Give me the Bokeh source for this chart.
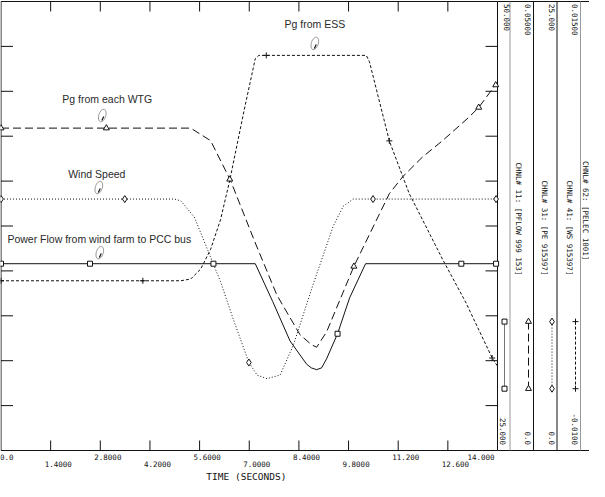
import numpy as np
from bokeh.plotting import figure
from bokeh.models import Range1d
from bokeh.core.properties import value
from bokeh.embed import file_html
from bokeh.resources import INLINE

# ---------------- data ----------------
time_ticks_even = [0.0, 2.8, 5.6, 8.4, 11.2, 14.0]
time_labels_even = ["0.0", "2.8000", "5.6000", "8.4000", "11.200", "14.000"]
time_ticks_odd = [1.4, 4.2, 7.0, 9.8, 12.6]
time_labels_odd = ["1.4000", "4.2000", "7.0000", "9.8000", "12.600"]
x_title = "TIME  (SECONDS)"

# channel 11: power flow wind farm -> PCC (MW)
pflow_t = [0.0, 7.17, 7.66, 8.15, 8.62, 8.75, 8.90, 9.04, 9.18, 9.49, 9.83, 10.28, 14.0]
pflow_v = [35.4, 35.4, 33.3, 31.1, 29.8, 29.6, 29.5, 29.6, 30.1, 31.5, 33.5, 35.4, 35.4]
pflow_mk_t = [0.0, 2.51, 5.99, 9.49, 12.98, 13.96]
pflow_mk_v = [35.4, 35.4, 35.4, 31.5, 35.4, 35.4]

# channel 31: Pg from each WTG
pe_t = [0.0, 5.35, 5.91, 6.47, 7.13, 7.78, 8.43, 8.75, 8.90, 9.18, 9.95, 10.95,
        11.33, 11.89, 12.45, 13.19, 13.47, 13.94, 14.0]
pe_v = [0.0359, 0.0359, 0.0345, 0.0301, 0.0235, 0.0173, 0.0129, 0.0118, 0.0115,
        0.0132, 0.0205, 0.0286, 0.0305, 0.0327, 0.0345, 0.0371, 0.0382, 0.0407, 0.0410]
pe_mk_t = [0.0, 2.97, 6.45, 9.95, 13.47, 13.95]
pe_mk_v = [0.0359, 0.0359, 0.0302, 0.0205, 0.0382, 0.0407]

# channel 41: wind speed
ws_t = [0.0, 4.89, 5.07, 5.45, 5.82, 6.19, 6.57, 6.99, 7.22, 7.50, 7.87, 8.25,
        8.53, 8.81, 9.09, 9.37, 9.65, 9.93, 14.0]
ws_v = [14.0, 14.0, 13.9, 13.0, 11.2, 9.4, 7.2, 4.9, 4.2, 4.0, 4.2, 5.9,
        7.6, 9.3, 10.9, 12.5, 13.6, 14.0, 14.0]
ws_mk_t = [0.0, 3.49, 6.99, 10.49, 13.96]
ws_mk_v = [14.0, 14.0, 4.9, 14.0, 14.0]

# channel 62: Pg from ESS
ess_t = [0.0, 5.07, 5.35, 5.63, 5.91, 6.19, 6.45, 6.85, 7.03, 7.17, 7.27, 10.30,
         10.39, 10.95, 11.51, 12.45, 13.10, 13.85, 14.0]
ess_v = [-0.00055, -0.00055, -0.00045, 0.0001, 0.0012, 0.00285, 0.00504, 0.00889,
         0.01054, 0.01182, 0.0120, 0.0120, 0.01164, 0.00724, 0.00431, 0.00065,
         -0.00173, -0.00485, -0.0053]
ess_mk_t = [0.0, 4.0, 7.48, 10.95, 13.85]
ess_mk_v = [-0.00055, -0.00055, 0.0120, 0.00724, -0.00485]

chan_keys = ["pflow", "pe", "ws", "ess"]
chan_names = ["CHNL# 11: [PFLOW 999 153]", "CHNL# 31: [PE 915397]",
              "CHNL# 41: [WS 915397]", "CHNL# 62: [PELEC 1001]"]
chan_max = [50.0, 0.05, 25.0, 0.015]
chan_min = [25.0, 0.0, 0.0, -0.01]
chan_max_labels = ["50.000", "0.05000", "25.000", "0.01500"]
chan_min_labels = ["25.000", "0.0", "0.0", "-0.0100"]

annot_texts = ["Pg from ESS", "Pg from each WTG", "Wind Speed",
               "Power Flow from wind farm to PCC bus"]

# ---------------- layout (pixels) ----------------
W, H = 589, 481
BOX_L, BOX_R = 0.5, 497.0
BOX_T, BOX_B = 1.0, 450.0
T_MAX = 14.0
NDIV = 10
sx = (BOX_R - BOX_L) / T_MAX
hbox = BOX_B - BOX_T
frac_below = (H - BOX_B) / hbox
frac_above = BOX_T / hbox

p = figure(width=W, height=H, output_backend="svg", toolbar_location=None,
           x_axis_location=None, y_axis_location=None,
           min_border=0, min_border_left=0, min_border_right=0,
           min_border_top=0, min_border_bottom=0)
p.outline_line_color = None
p.grid.visible = False
p.background_fill_color = "white"
p.border_fill_color = "white"

p.x_range = Range1d(-BOX_L / sx, T_MAX + (W - BOX_R) / sx)
p.y_range = Range1d(-NDIV * frac_below, NDIV + NDIV * frac_above)
p.extra_x_ranges = {"px": Range1d(0, W)}
extra_y = {"py": Range1d(H, 0)}
for k, lo, hi in zip(chan_keys, chan_min, chan_max):
    span = hi - lo
    extra_y[k] = Range1d(lo - span * frac_below, hi + span * frac_above)
p.extra_y_ranges = extra_y

INK = "#111111"
MONO = value("DejaVu Sans Mono")

# ---------------- plot box and ticks ----------------
p.segment(x0=[0, 0, 0, T_MAX], y0=[0, NDIV, 0, 0],
          x1=[T_MAX, T_MAX, 0, T_MAX], y1=[0, NDIV, NDIV, NDIV],
          line_color=INK, line_width=1)
all_ticks = sorted(time_ticks_even[1:-1] + time_ticks_odd)
tick_v = 10.0 / (hbox / NDIV)
p.segment(x0=all_ticks, y0=[0] * len(all_ticks), x1=all_ticks,
          y1=[tick_v] * len(all_ticks), line_color=INK)
p.segment(x0=all_ticks, y0=[NDIV] * len(all_ticks), x1=all_ticks,
          y1=[NDIV - tick_v] * len(all_ticks), line_color=INK)
ydivs = list(range(1, NDIV))
tick_h = 12.0 / sx
p.segment(x0=[0] * len(ydivs), y0=ydivs, x1=[tick_h] * len(ydivs), y1=ydivs,
          line_color=INK)
p.segment(x0=[T_MAX] * len(ydivs), y0=ydivs, x1=[T_MAX - tick_h] * len(ydivs),
          y1=ydivs, line_color=INK)

# x tick labels (two staggered rows)
p.text(x=time_ticks_even[:-1], y=[456] * (len(time_ticks_even) - 1),
       text=time_labels_even[:-1], y_range_name="py",
       x_offset=[-1] + [-6] * (len(time_ticks_even) - 2),
       text_align="left", text_baseline="middle", text_font=MONO,
       text_font_size="7.5px", text_color=INK)
p.text(x=time_ticks_even[-1:], y=[456], text=time_labels_even[-1:],
       y_range_name="py", x_offset=-3, text_align="right",
       text_baseline="middle", text_font=MONO, text_font_size="7.5px",
       text_color=INK)
p.text(x=time_ticks_odd, y=[463.5] * len(time_ticks_odd), text=time_labels_odd,
       y_range_name="py", x_offset=-6, text_align="left",
       text_baseline="middle", text_font=MONO, text_font_size="7.5px",
       text_color=INK)
p.text(x=[7.0], y=[476], text=[x_title], y_range_name="py",
       text_align="center", text_baseline="middle", text_font=MONO,
       text_font_size="9.5px", text_color=INK)

# ---------------- curves ----------------
p.line(ess_t, ess_v, y_range_name="ess", line_color=INK, line_width=1, line_dash="3 2")
p.line(ws_t, ws_v, y_range_name="ws", line_color=INK, line_width=1, line_dash="1 2")
p.line(pe_t, pe_v, y_range_name="pe", line_color=INK, line_width=1, line_dash="8 4")
p.line(pflow_t, pflow_v, y_range_name="pflow", line_color=INK, line_width=1)

p.scatter(pflow_mk_t, pflow_mk_v, y_range_name="pflow", marker="square", size=5,
          fill_color="white", line_color=INK)
p.scatter(pe_mk_t, pe_mk_v, y_range_name="pe", marker="triangle", size=6,
          fill_color="white", line_color=INK)
p.scatter(ws_mk_t, ws_mk_v, y_range_name="ws", marker="diamond", size=7,
          fill_color="white", line_color=INK)
p.scatter(ess_mk_t, ess_mk_v, y_range_name="ess", marker="cross", size=6,
          line_color=INK)

# ---------------- annotations ----------------
ann_x = [314.3, 106.7, 96.3, 98.8]
ann_y = [23.2, 98.2, 173.2, 238.3]
ptr_x = [314.3, 101.8, 98.3, 99.3]
ptr_y = [42.9, 115.0, 187.0, 252.1]
p.text(x=ann_x, y=ann_y, text=annot_texts, x_range_name="px", y_range_name="py",
       text_align="center", text_baseline="middle",
       text_font=value("Liberation Sans"), text_font_size="10.5px",
       text_color="#2a2a2a")
p.ellipse(x=ptr_x, y=ptr_y, width=7, height=13, angle=-0.3,
          width_units="screen", height_units="screen",
          x_range_name="px", y_range_name="py",
          fill_color="white", line_color="#9a9a9a", line_width=1)
p.segment(x0=[x + 1.5 for x in ptr_x], y0=[y + 1 for y in ptr_y],
          x1=[x - 0.5 for x in ptr_x], y1=[y + 5 for y in ptr_y],
          x_range_name="px", y_range_name="py", line_color=INK, line_width=1.2)

# ---------------- channel strips on the right ----------------
p.segment(x0=[BOX_R, BOX_R], y0=[BOX_T, BOX_B], x1=[W, W], y1=[BOX_T, BOX_B],
          x_range_name="px", y_range_name="py", line_color=INK)
div_x = [509.5, 533.0, 556.5, 580.0]
div_c = ["#999999", INK, INK, "#999999"]
p.segment(x0=div_x, y0=[BOX_T] * 4, x1=div_x, y1=[BOX_B] * 4, color=div_c,
          x_range_name="px", y_range_name="py", line_width=1)

max_x = [506.5, 527.0, 551.5, 574.0]
min_x = [502.8, 527.5, 551.5, 574.5]
name_x = [517.5, 544.0, 568.5, 585.0]
samp_x = [504.0, 528.0, 551.5, 575.0]
rot = -np.pi / 2
p.text(x=max_x, y=[3.5] * 4, text=chan_max_labels, angle=rot,
       x_range_name="px", y_range_name="py", text_align="left",
       text_baseline="middle", text_font=MONO, text_font_size="7.5px",
       text_color=INK)
p.text(x=min_x, y=[444.5] * 4, text=chan_min_labels, angle=rot,
       x_range_name="px", y_range_name="py", text_align="right",
       text_baseline="middle", text_font=MONO, text_font_size="7.5px",
       text_color=INK)
p.text(x=name_x[:3], y=[274.9] * 3, text=chan_names[:3], angle=rot,
       x_range_name="px", y_range_name="py", text_align="right",
       text_baseline="middle", text_font=MONO, text_font_size="7.5px",
       text_color=INK)
p.text(x=name_x[3:], y=[160.4], text=chan_names[3:], angle=rot,
       x_range_name="px", y_range_name="py", text_align="left",
       text_baseline="middle", text_font=MONO, text_font_size="7.5px",
       text_color=INK)

samp_top, samp_bot = 321.1, 388.2
samp_dash = ["solid", "8 4", "1 2", "3 2"]
samp_col = ["#777777", INK, INK, INK]
samp_mk = ["square", "triangle", "diamond", "cross"]
samp_sz = [5, 6, 7, 6]
for sxp, dsh, col, mk, sz in zip(samp_x, samp_dash, samp_col, samp_mk, samp_sz):
    p.line([sxp, sxp], [samp_top, samp_bot], x_range_name="px", y_range_name="py",
           line_color=col, line_dash=dsh, line_width=1)
    p.scatter([sxp, sxp], [samp_top, samp_bot], x_range_name="px",
              y_range_name="py", marker=mk, size=sz, fill_color="white",
              line_color=INK)

open("out.html", "w").write(file_html(p, INLINE))
